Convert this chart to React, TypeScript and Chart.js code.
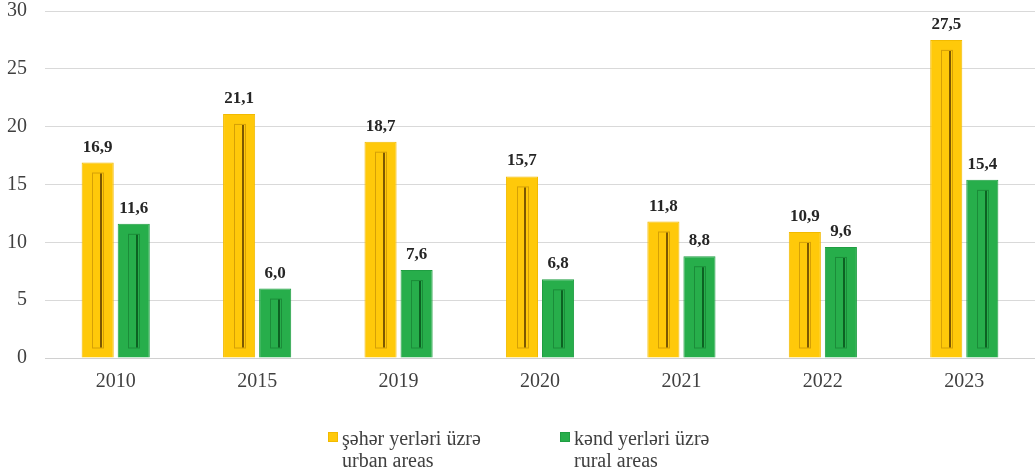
import React, { useEffect, useRef } from "react";
import { Chart, registerables } from "chart.js";

Chart.register(...registerables);

const categories = ["2010", "2015", "2019", "2020", "2021", "2022", "2023"];
const urbanValues = [16.9, 21.1, 18.7, 15.7, 11.8, 10.9, 27.5];
const ruralValues = [11.6, 6.0, 7.6, 6.8, 8.8, 9.6, 15.4];
const urbanLabel = ["şəhər yerləri üzrə", "urban areas"];
const ruralLabel = ["kənd yerləri üzrə", "rural areas"];
const yTicks = [0, 5, 10, 15, 20, 25, 30];

const SERIF = "'Liberation Serif', 'DejaVu Serif', 'Times New Roman', serif";
const TEXT = "#404040";

const YELLOW = "#FFC90A";
const YELLOW_BORDER = "#F2BA00";
const YELLOW_DARK = "rgba(110,75,0,0.9)";
const YELLOW_SOFT = "rgba(150,100,0,0.4)";
const GREEN = "#27AE4B";
const GREEN_BORDER = "#1F9E42";
const GREEN_DARK = "rgba(10,90,30,0.9)";
const GREEN_SOFT = "rgba(10,90,30,0.4)";

const decoPlugin = {
  id: "decoPlugin",
  afterDatasetsDraw(chart: any) {
    const ctx = chart.ctx;
    chart.data.datasets.forEach((ds: any, di: number) => {
      const meta = chart.getDatasetMeta(di);
      const dark = di === 0 ? YELLOW_DARK : GREEN_DARK;
      const soft = di === 0 ? YELLOW_SOFT : GREEN_SOFT;
      meta.data.forEach((bar: any, i: number) => {
        const { x, y, base, width } = bar.getProps(["x", "y", "base", "width"], true);
        if (base - y > 25) {
          const top = y + 10;
          const bottom = base - 10;
          const left = x - width * 0.17;
          const right = x + width * 0.17;
          ctx.save();
          ctx.strokeStyle = soft;
          ctx.lineWidth = 1;
          ctx.strokeRect(Math.round(left) + 0.5, top + 0.5, Math.round(right - left), bottom - top);
          ctx.strokeStyle = dark;
          ctx.lineWidth = 2;
          ctx.beginPath();
          const lx = Math.round(x + width * 0.11);
          ctx.moveTo(lx, top + 1);
          ctx.lineTo(lx, bottom);
          ctx.stroke();
          ctx.restore();
        }
        const v = ds.data[i];
        ctx.save();
        ctx.fillStyle = "#262626";
        ctx.font = `bold 17px ${SERIF}`;
        ctx.textAlign = "center";
        ctx.textBaseline = "alphabetic";
        ctx.fillText(v.toFixed(1).replace(".", ","), x, y - 11);
        ctx.restore();
      });
    });
  },
  afterDraw(chart: any) {
    const ctx = chart.ctx;
    const items = [
      { x: 328, color: YELLOW, border: YELLOW_BORDER, lines: urbanLabel },
      { x: 560, color: GREEN, border: GREEN_BORDER, lines: ruralLabel },
    ];
    ctx.save();
    ctx.font = `20px ${SERIF}`;
    ctx.textAlign = "left";
    ctx.textBaseline = "alphabetic";
    items.forEach((it) => {
      ctx.fillStyle = it.color;
      ctx.fillRect(it.x, 432, 10, 10);
      ctx.strokeStyle = it.border;
      ctx.lineWidth = 1;
      ctx.strokeRect(it.x + 0.5, 432.5, 9, 9);
      ctx.fillStyle = TEXT;
      ctx.fillText(it.lines[0], it.x + 14, 445);
      ctx.fillText(it.lines[1], it.x + 14, 467);
    });
    ctx.restore();
  },
};

export default function App() {
  const ref = useRef<HTMLCanvasElement>(null);
  useEffect(() => {
    if (!ref.current) return;
    const chart = new Chart(ref.current, {
      type: "bar",
      data: {
        labels: categories,
        datasets: [
          {
            label: urbanLabel.join(" / "),
            data: urbanValues,
            backgroundColor: YELLOW,
            borderColor: YELLOW_BORDER,
            borderWidth: 1,
            barPercentage: 0.89,
            categoryPercentage: 0.51,
          },
          {
            label: ruralLabel.join(" / "),
            data: ruralValues,
            backgroundColor: GREEN,
            borderColor: GREEN_BORDER,
            borderWidth: 1,
            barPercentage: 0.89,
            categoryPercentage: 0.51,
          },
        ],
      },
      options: {
        animation: false,
        responsive: false,
        maintainAspectRatio: false,
        layout: { padding: { left: 0, right: 0, top: 11, bottom: 77 } },
        plugins: {
          legend: { display: false },
          tooltip: { enabled: false },
        },
        scales: {
          x: {
            grid: { display: false, drawTicks: false },
            border: { display: true, color: "#d0d0d0", width: 1 },
            ticks: { color: TEXT, font: { family: SERIF, size: 20 }, padding: 12 },
            afterFit: (s: any) => {
              s.height = 40;
              s.paddingLeft = 0;
              s.paddingRight = 0;
            },
          },
          y: {
            min: 0,
            max: 30,
            afterBuildTicks: (s: any) => {
              s.ticks = yTicks.map((v) => ({ value: v }));
            },
            grid: { color: "#d9d9d9", drawTicks: false },
            border: { display: false },
            ticks: { color: TEXT, font: { family: SERIF, size: 20 }, padding: 18 },
            afterFit: (s: any) => {
              s.width = 45;
              s.paddingTop = 0;
              s.paddingBottom = 0;
            },
          },
        },
      },
      plugins: [decoPlugin],
    });
    return () => chart.destroy();
  }, []);
  return (
    <div style={{ position: "fixed", left: 0, top: 0, width: 1035, height: 475, background: "#fff" }}>
      <canvas ref={ref} width={1035} height={475} style={{ width: 1035, height: 475 }} />
    </div>
  );
}
